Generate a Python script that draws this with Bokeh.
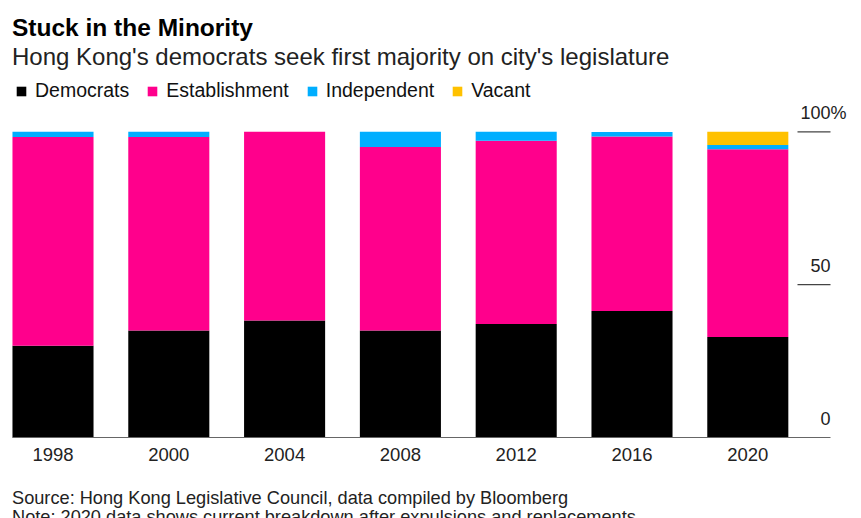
from bokeh.plotting import figure
from bokeh.models import ColumnDataSource, Range1d, Label, Legend, LegendItem
from bokeh.core.properties import value
from bokeh.embed import file_html
from bokeh.resources import INLINE

# ---- data (share of seats, %) ----
years = ["1998", "2000", "2004", "2008", "2012", "2016", "2020"]
democrats = [30.0, 35.0, 38.3, 35.0, 37.1, 41.4, 32.9]
establishment = [68.3, 63.3, 61.7, 60.0, 60.0, 57.1, 61.4]
independent = [1.7, 1.7, 0.0, 5.0, 2.9, 1.4, 1.4]
vacant = [0.0, 0.0, 0.0, 0.0, 0.0, 0.0, 4.3]
series = ["Democrats", "Establishment", "Independent", "Vacant"]
y_ticks = [0, 50, 100]

colors = ["#000000", "#ff008c", "#00aeff", "#ffc100"]
FONT = "Liberation Sans"

W, H = 861, 518
xs = list(range(len(years)))

src = ColumnDataSource(dict(x=xs, Democrats=democrats, Establishment=establishment,
                            Independent=independent, Vacant=vacant, year=years))

# pixel layout -> data ranges (canvas starts at page 0,0)
px_per_x = 115.8
x_start = -52.5 / px_per_x
x_end = x_start + W / px_per_x
px_per_y = (437 - 131.3) / 100.0
y_end = 437 / px_per_y
y_start = y_end - H / px_per_y

p = figure(width=W, height=H, output_backend="svg", toolbar_location=None,
           x_range=Range1d(x_start, x_end), y_range=Range1d(y_start, y_end),
           min_border=0, tools="")
p.axis.visible = False
p.grid.visible = False
p.outline_line_color = None
p.background_fill_color = "white"

rs = p.vbar_stack(series, x="x", width=0.7, source=src, color=colors, line_color=None)

axis_right = (830 - 52.5) / px_per_x
tick_left = (797 - 52.5) / px_per_x

# baseline
p.segment(x0=[-0.35], y0=[0], x1=[axis_right], y1=[0], line_color="#666666", line_width=1.2)

# right-hand tick marks and labels
tick_src = ColumnDataSource(dict(x0=[tick_left] * 2, x1=[axis_right] * 2,
                                 y=[t for t in y_ticks if t > 0]))
p.segment(x0="x0", y0="y", x1="x1", y1="y", source=tick_src, line_color="#444444", line_width=1.2)
lab_src = ColumnDataSource(dict(x=[axis_right] * len(y_ticks), y=y_ticks,
                                t=[str(t) for t in y_ticks]))
p.text(x="x", y="y", text="t", source=lab_src, text_align="right", text_baseline="alphabetic",
       y_offset=-19, text_font=value(FONT), text_font_size="18px", text_color="#222222")
p.text(x=[axis_right], y=[max(y_ticks)], text=["%"], text_align="left", text_baseline="alphabetic",
       y_offset=-19, text_font=value(FONT), text_font_size="18px", text_color="#222222")

# year labels
p.text(x="x", y=0, text="year", source=src, text_align="center", text_baseline="alphabetic",
       y_offset=17, text_font=value(FONT), text_font_size="18.5px", text_color="#222222")

# titles and notes
def add_label(txt, page_y, size, bold=False, color="#222222"):
    p.add_layout(Label(x=11.5, y=H - page_y, x_units="screen", y_units="screen", text=txt,
                       text_font=FONT, text_font_size=size, text_baseline="alphabetic",
                       text_font_style="bold" if bold else "normal", text_color=color))

add_label("Stuck in the Minority", 27, "24.5px", bold=True, color="#000000")
add_label("Hong Kong's democrats seek first majority on city's legislature", 56, "24px")
add_label("Source: Hong Kong Legislative Council, data compiled by Bloomberg", 497, "18.2px")
add_label("Note: 2020 data shows current breakdown after expulsions and replacements", 516.5, "18.2px")

legend = Legend(items=[LegendItem(label=s, renderers=[r]) for s, r in zip(series, rs)],
                orientation="horizontal", location=(15, 416), glyph_width=12, glyph_height=12,
                label_text_font=FONT, label_text_font_size="19.5px", label_text_color="#111111",
                label_standoff=8, spacing=17, padding=0, margin=0,
                border_line_color=None, background_fill_alpha=0)
p.add_layout(legend)

open("out.html", "w").write(file_html(p, INLINE))
